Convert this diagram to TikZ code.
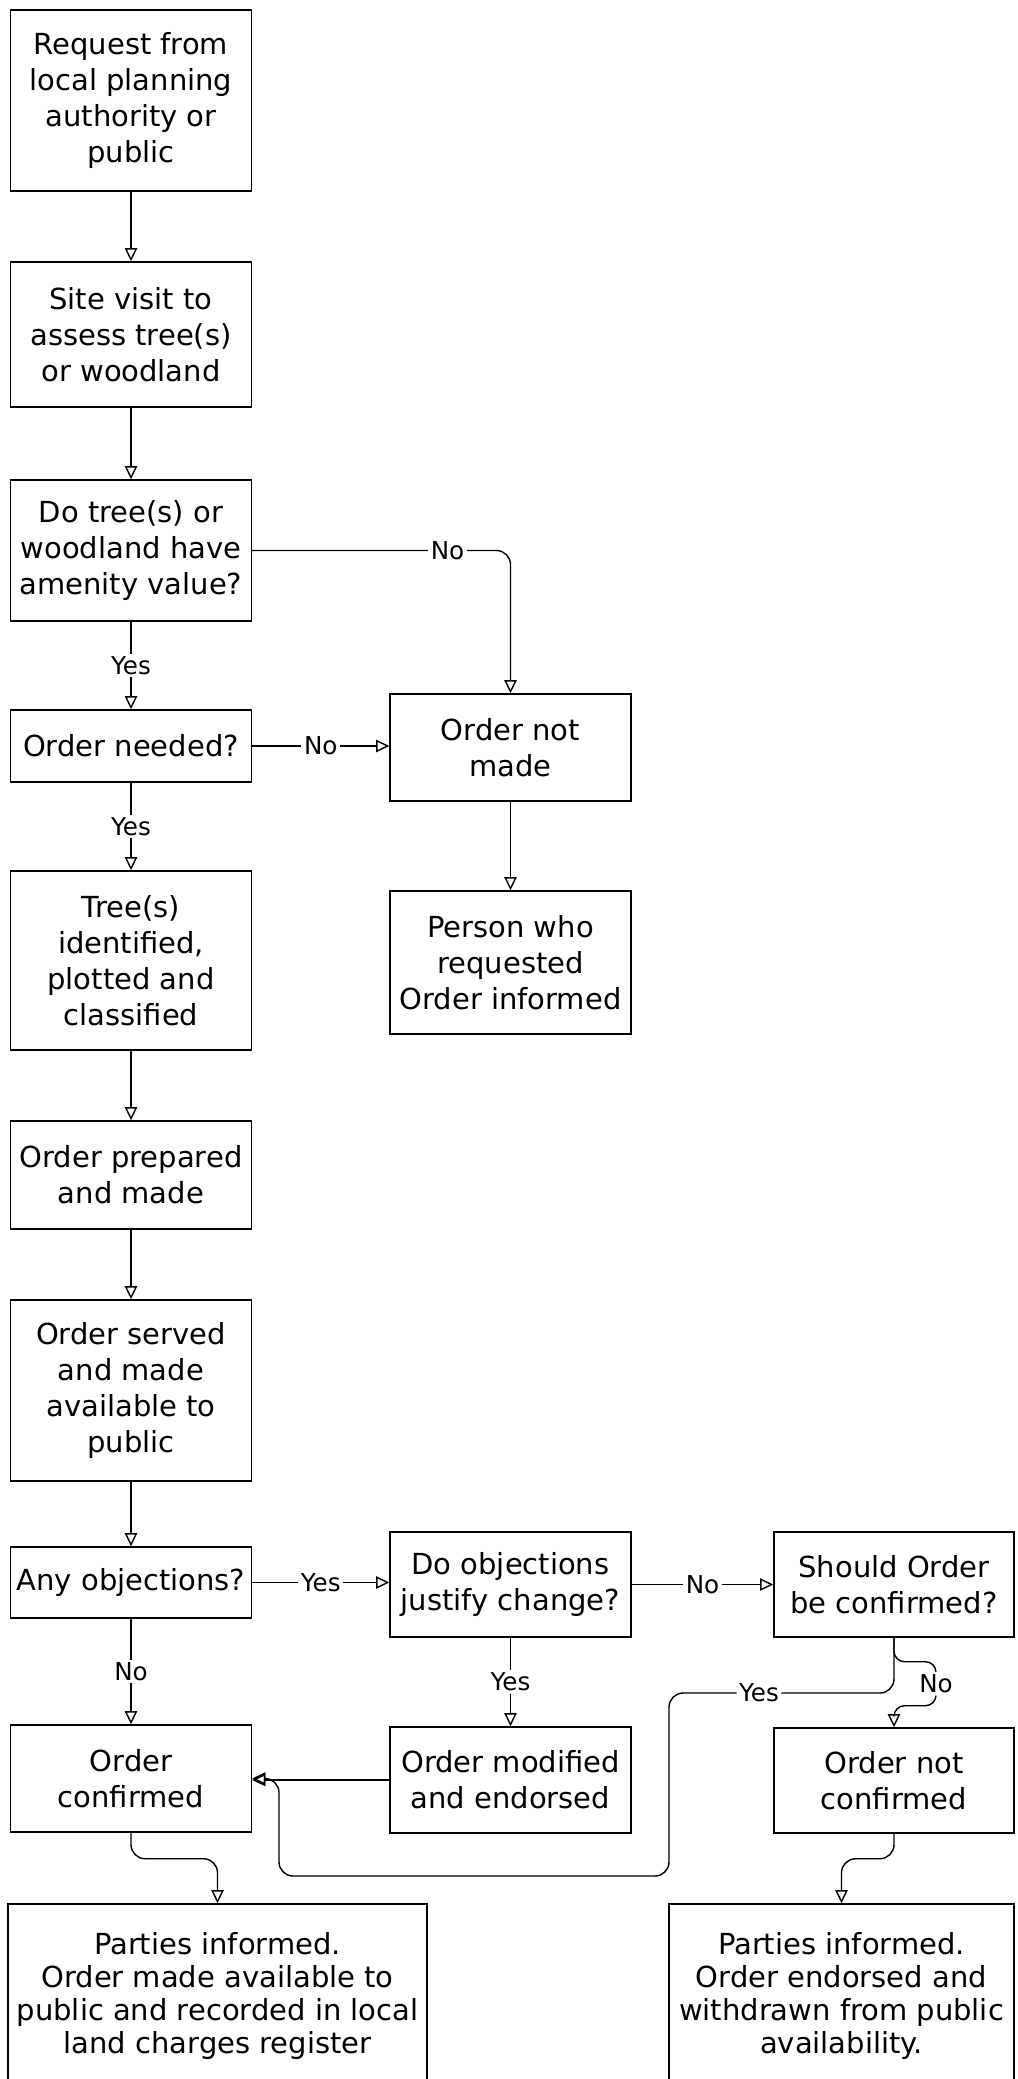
\documentclass[tikz,border=0pt]{standalone}
\usepackage{fontspec}
\setmainfont{DejaVu Sans}
\usepackage{tikz}
\usetikzlibrary{arrows.meta}

\newcommand{\boxfont}{\fontsize{16.5}{20.4}\selectfont}
\newcommand{\widefont}{\fontsize{16.5}{18.6}\selectfont}
\newcommand{\lblfont}{\fontsize{14}{16}\selectfont}

\tikzset{
	box/.style={draw, line width=0.8pt, align=center, inner sep=0pt,
		minimum width=4.82cm, font=\boxfont},
	widebox/.style={box, font=\widefont},
	lbl/.style={fill=white, inner sep=1.5pt, font=\lblfont},
	arr/.style={line width=0.8pt, -{Triangle[open, length=7.5pt, width=7pt]}}
}

\begin{document}
\begin{tikzpicture}
	\useasboundingbox (0,0) rectangle (20.36,-41.58);

	% left column
	\node[box, minimum height=3.62cm] (request) at (2.62,-2.01) {Request from\\local planning\\authority or\\public};
	\node[box, minimum height=2.9cm] (site) at (2.62,-6.69) {Site visit to\\assess tree(s)\\or woodland};
	\node[box, minimum height=2.82cm] (amenity) at (2.62,-11.01) {Do tree(s) or\\woodland have\\amenity value?};
	\node[box, minimum height=1.44cm] (needed) at (2.62,-14.92) {Order needed?};
	\node[box, minimum height=3.58cm] (identified) at (2.62,-19.21) {Tree(s)\\identified,\\plotted and\\classified};
	\node[box, minimum height=2.16cm] (prepared) at (2.62,-23.5) {Order prepared\\and made};
	\node[box, minimum height=3.62cm] (served) at (2.62,-27.81) {Order served\\and made\\available to\\public};
	\node[box, minimum height=1.42cm] (objections) at (2.62,-31.65) {Any objections?};
	\node[box, minimum height=2.14cm] (confirmed) at (2.62,-35.57) {Order\\confirmed};

	% middle column
	\node[box, minimum height=2.14cm] (notmade) at (10.21,-14.95) {Order not\\made};
	\node[box, minimum height=2.86cm] (informed) at (10.21,-19.25) {Person who\\requested\\Order informed};
	\node[box, minimum height=2.1cm] (justify) at (10.21,-31.69) {Do objections\\justify change?};
	\node[box, minimum height=2.12cm] (modified) at (10.21,-35.6) {Order modified\\and endorsed};

	% right column
	\node[box, minimum width=4.8cm, minimum height=2.1cm] (should) at (17.88,-31.69) {Should Order\\be confirmed?};
	\node[box, minimum width=4.8cm, minimum height=2.1cm] (notconf) at (17.88,-35.61) {Order not\\confirmed};

	% bottom row
	\node[widebox, minimum width=8.38cm, minimum height=3.68cm] (partiesL) at (4.35,-39.92) {Parties informed.\\Order made available to\\public and recorded in local\\land charges register};
	\node[widebox, minimum width=6.9cm, minimum height=3.68cm] (partiesR) at (16.83,-39.92) {Parties informed.\\Order endorsed and\\withdrawn from public\\availability.};

	% connectors
	\draw[arr] (request) -- (site);
	\draw[arr] (site) -- (amenity);
	\draw[arr, rounded corners=8pt] (amenity) -| node[lbl, pos=0.378] {No} (notmade);
	\draw[arr] (amenity) -- node[lbl] {Yes} (needed);
	\draw[arr] (needed.east) -- node[lbl] {No} (needed.east -| notmade.west);
	\draw[arr] (needed) -- node[lbl] {Yes} (identified);
	\draw[arr] (notmade) -- (informed);
	\draw[arr] (identified) -- (prepared);
	\draw[arr] (prepared) -- (served);
	\draw[arr] (served) -- (objections);

	\draw[arr] (objections.east) -- node[lbl] {Yes} (objections.east -| justify.west);
	\draw[arr] (justify) -- node[lbl] {No} (should);
	\draw[arr] (objections) -- node[lbl] {No} (confirmed);
	\draw[arr] (justify) -- node[lbl] {Yes} (modified);
	\draw[arr] (modified.west) -- (modified.west -| confirmed.east);

	\coordinate (yesturn) at (13.38,-33.86);
	\coordinate (yesloop) at (5.58,-37.52);
	\draw[arr, rounded corners=8pt] (should.south) |- node[lbl, pos=0.8] {Yes} (yesturn) |- (yesloop) |- (confirmed.east);
	\draw[arr, rounded corners=6pt] (should.south) -- ++(0,-0.48) -| node[lbl, pos=0.75] {No} ++(0.84,-0.88) -| (notconf.north);

	\draw[arr, rounded corners=8pt] (confirmed.south) -- ++(0,-0.52) -| (partiesL.north);
	\draw[arr, rounded corners=8pt] (notconf.south) -- ++(0,-0.5) -| (partiesR.north);
\end{tikzpicture}
\end{document}
